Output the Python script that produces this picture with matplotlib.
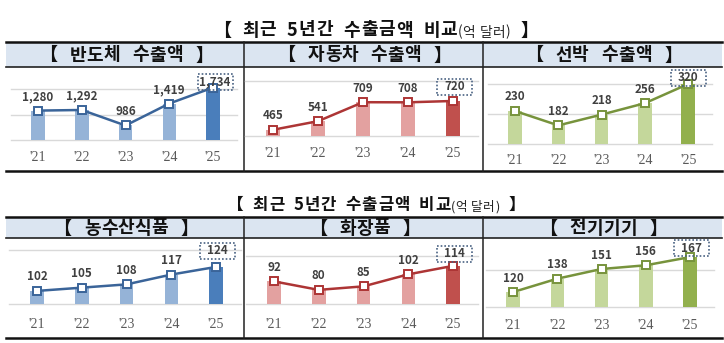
import matplotlib
matplotlib.use("Agg")
import matplotlib.pyplot as plt
from matplotlib.patches import Rectangle
from matplotlib.transforms import IdentityTransform

plt.rcParams['font.family'] = ['Noto Sans CJK KR', 'DejaVu Sans']

W, H = 724, 343

# ---- data (억 달러) ----
years = ["'21", "'22", "'23", "'24", "'25"]
semiconductor = [1280, 1292, 986, 1419, 1734]
automobile = [465, 541, 709, 708, 720]
ship = [230, 182, 218, 256, 320]
agrifood = [102, 105, 108, 117, 124]
cosmetics = [92, 80, 85, 102, 114]
electrical = [120, 138, 151, 156, 167]

panel_titles = ["【 반도체 수출액 】", "【 자동차 수출액 】", "【 선박 수출액 】",
                "【 농수산식품 】", "【 화장품 】", "【 전기기기 】"]
title_main = "【 최근 5년간 수출금액 비교"
title_unit = "(억 달러)"
title_end = " 】"

# axis range / gridlines for each small chart
axis_min = [700, 410, 120, 90, 60, 100]
grid_vals = [[700, 1200, 1700], [410, 900], [120, 220, 320],
             [90, 140], [60, 128], [100, 150]]

# ---- colour schemes ----
schemes = {
    'blue': dict(light='#95b3d7', dark='#4a7ebb', line='#3a6499'),
    'red': dict(light='#e3a1a0', dark='#c0504d', line='#ad3535'),
    'green': dict(light='#c4d79b', dark='#92b04d', line='#77933c'),
}

# ---- page layout (pixels) ----
tables = [dict(title_y=30, title_fs=13.0, title_sp=6, top=42, head=67, bottom=171),
          dict(title_y=205, title_fs=12.0, title_sp=5, top=217, head=238, bottom=338)]
x_left, x_right = 6, 722
dividers = [244, 483]
col_bounds = [(x_left, 244), (244, 483), (483, x_right)]

layout = [
    dict(x0=38, dx=43.75, yb=140, k=0.0507, ticky=157, scheme='blue', last=(2, 6)),
    dict(x0=273, dx=45.0, yb=136, k=0.113, ticky=153, scheme='red', last=(2, 14)),
    dict(x0=515, dx=43.3, yb=144, k=0.30, ticky=160, scheme='green', last=(0, 6)),
    dict(x0=37, dx=44.75, yb=304, k=1.09, ticky=324, scheme='blue', last=(1, 16)),
    dict(x0=274, dx=44.75, yb=304, k=0.706, ticky=324, scheme='red', last=(1, 12)),
    dict(x0=513, dx=44.25, yb=307, k=0.745, ticky=325, scheme='green', last=(1, 9)),
]
series = [semiconductor, automobile, ship, agrifood, cosmetics, electrical]

fig = plt.figure(figsize=(W / 100, H / 100), dpi=100)
fig.patch.set_facecolor('white')

frame = fig.add_axes([0, 0, 1, 1])
frame.set_xlim(0, W)
frame.set_ylim(H, 0)
frame.axis('off')


def tracked_text(y, segments):
    """Draw a run of characters with extra letter spacing and widened word gaps.

    Returns the first and last Text so the run can be centred afterwards."""
    first = prev = None
    for text, fs, weight, color, track, space in segments:
        for ch in text:
            if prev is None:
                prev = frame.text(0, y, ch, ha='left', va='center', fontsize=fs,
                                  fontweight=weight, color=color)
                first = prev
            else:
                gap = space if ch == ' ' else track
                prev = frame.annotate(ch, xy=(1, 0), xycoords=prev, xytext=(gap, 0),
                                      textcoords='offset pixels', ha='left', va='bottom',
                                      fontsize=fs, fontweight=weight, color=color)
    return first, prev


centred = []

# ---- table frames, headers and titles ----
for ti, t in enumerate(tables):
    frame.add_patch(Rectangle((x_left, t['top']), x_right - x_left, t['head'] - t['top'],
                              facecolor='#dbe5f1', edgecolor='none', zorder=0))
    frame.plot([x_left, x_right], [t['top'], t['top']], color='#111111', lw=1.8)
    frame.plot([x_left, x_right], [t['head'], t['head']], color='#222222', lw=1.2)
    frame.plot([x_left, x_right], [t['bottom'], t['bottom']], color='#111111', lw=1.8)
    for d in dividers:
        frame.plot([d, d], [t['top'], t['bottom']], color='#222222', lw=1.1)
    for ci, (a, b) in enumerate(col_bounds):
        pair = tracked_text((t['top'] + t['head']) / 2 + 0.5,
                            [(panel_titles[ti * 3 + ci], 13.0, 'bold', '#111111', 0.3, 8)])
        centred.append((pair, (a + b) / 2 + 1))

    fs = t['title_fs']
    pair = tracked_text(t['title_y'], [
        (title_main, fs, 'bold', '#111111', 0.8, t['title_sp']),
        (title_unit, fs * 0.76, 'normal', '#222222', 0.3, 1),
        (title_end, fs, 'bold', '#111111', 0.8, t['title_sp']),
    ])
    centred.append((pair, (x_left + x_right) / 2 + 12))

# ---- small charts ----
for pi, (p, vals) in enumerate(zip(layout, series)):
    t = tables[pi // 3]
    sc = schemes[p['scheme']]
    left = p['x0'] - 0.62 * p['dx']
    right = p['x0'] + 4.55 * p['dx']
    top = t['head'] + 2
    bottom = p['yb']
    ax = fig.add_axes([left / W, 1 - bottom / H, (right - left) / W, (bottom - top) / H])
    vmin = axis_min[pi]
    ax.set_xlim(-0.62, 4.55)
    ax.set_ylim(vmin, vmin + (bottom - top) / p['k'])
    ax.patch.set_alpha(0)
    for s in ax.spines.values():
        s.set_visible(False)
    ax.set_yticks([])

    for g in grid_vals[pi]:
        ax.axhline(g, color='#d9d9d9', lw=1.0, zorder=1, clip_on=False)

    colors = [sc['light']] * 4 + [sc['dark']]
    ax.bar(range(5), vals, width=13.5 / p['dx'], color=colors, zorder=2)
    ax.plot(range(5), vals, color=sc['line'], lw=1.8, marker='s', ms=5.5,
            mfc='white', mec=sc['line'], mew=1.4, zorder=3, clip_on=False)

    for i, v in enumerate(vals):
        if i < 4:
            ox, oy = 0, 14
        else:
            ox, oy = p['last']
        ax.annotate(f"{v:,}", (i, v), xytext=(ox, oy), textcoords='offset pixels',
                    ha='center', va='center', fontsize=8.4, fontweight='bold',
                    color='#404040', zorder=5, annotation_clip=False)
        if i == 4:
            px, py = ax.transData.transform((i, v))
            box = Rectangle((px + ox - 17.5, py + oy - 8), 35, 16, transform=IdentityTransform(),
                            fill=False, edgecolor='#4a6283', lw=1.2, linestyle=(0, (1, 1.2)))
            fig.add_artist(box)

    ax.set_xticks(range(5))
    ax.set_xticklabels(years, fontfamily=['Liberation Serif', 'DejaVu Serif'],
                       fontsize=10, color='#595959')
    pad_px = p['ticky'] - 6 - p['yb']
    ax.tick_params(axis='x', length=0, pad=pad_px * 0.72)

# centre the tracked text runs
fig.canvas.draw()
for (first, last), cx in centred:
    l = first.get_window_extent().x0
    r = last.get_window_extent().x1
    first.set_x(first.get_position()[0] + cx - (l + r) / 2)

fig.savefig('out.png', dpi=100, facecolor='white')
